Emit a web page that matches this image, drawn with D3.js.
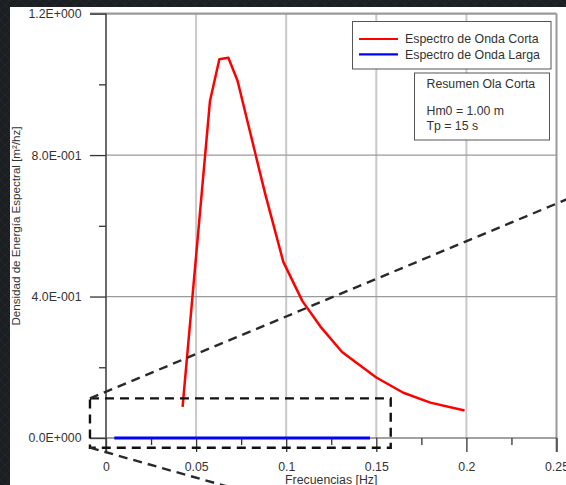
<!DOCTYPE html>
<html>
<head>
<meta charset="utf-8">
<script src="https://cdn.jsdelivr.net/npm/d3@7"></script>
<style>
  html, body { margin: 0; padding: 0; background: #1c1f22; }
  svg { display: block; }
  text { font-family: "Liberation Sans", Arial, sans-serif; fill: #333; }
</style>
</head>
<body>
<svg id="chart" width="566" height="485"></svg>
<script>
// Short-wave spectrum (frequency in Hz, spectral density in m²/Hz)
const shortFreq = [0.0425, 0.0577, 0.0629, 0.0679, 0.0730, 0.0882, 0.0984, 0.1090, 0.1190, 0.1310, 0.1405, 0.1500, 0.1650, 0.1800, 0.1990];
const shortDensity = [0.088, 0.953, 1.071, 1.075, 1.010, 0.693, 0.498, 0.387, 0.315, 0.243, 0.207, 0.171, 0.128, 0.100, 0.078];

// Long-wave spectrum (flat at zero over its range)
const longFreq = [0.0046, 0.1465];
const longDensity = [0, 0];

// Axis ticks
const xTicks = [0, 0.05, 0.1, 0.15, 0.2, 0.25];
const xMinorTicks = [0.025, 0.075, 0.125, 0.175, 0.225];
const yTicks = [0, 0.4, 0.8, 1.2];
const yMinorTicks = [0.2, 0.6, 1.0];

// Legend entries and summary text
const legendLabels = ["Espectro de Onda Corta", "Espectro de Onda Larga"];
const legendColors = ["#ff0000", "#0000ff"];
const summaryLines = ["Resumen Ola Corta", "Hm0 = 1.00 m", "Tp = 15 s"];

// Zoom box (data units) and the connector lines leaving its left corners
const zoomBoxX = [-0.0089, 0.158];
const zoomBoxY = [-0.0274, 0.112];
const connectorUpper = [[-0.0089, 0.112], [0.30, 0.769]];
const connectorLower = [[-0.0089, -0.0274], [0.12, -0.213]];

const svg = d3.select("#chart");
const W = 566, H = 485;

// dark backdrop with a faint diamond texture
const defs = svg.append("defs");
const pat = defs.append("pattern").attr("id", "bgpat")
  .attr("width", 10).attr("height", 10).attr("patternUnits", "userSpaceOnUse");
pat.append("rect").attr("width", 10).attr("height", 10).attr("fill", "#1c1f22");
pat.append("path").attr("d", "M0,0L10,10M10,0L0,10").attr("stroke", "#23272b").attr("stroke-width", 1);
svg.append("rect").attr("width", W).attr("height", H).attr("fill", "url(#bgpat)");

// white page
svg.append("rect").attr("x", 10).attr("y", 7).attr("width", W - 10).attr("height", H - 7).attr("fill", "#ffffff");

const x = d3.scaleLinear().domain([0, 0.25]).range([106, 556.5]);
const y = d3.scaleLinear().domain([0, 1.2]).range([438, 13.6]);

const sciFmt = v => {
  if (v === 0) return "0.0E+000";
  let e = Math.floor(Math.log10(Math.abs(v)) + 1e-9);
  let m = v / Math.pow(10, e);
  if (Math.abs(m) >= 9.95) { m /= 10; e += 1; }
  const sign = e < 0 ? "-" : "+";
  return m.toFixed(1) + "E" + sign + String(Math.abs(e)).padStart(3, "0");
};

// gridlines
const grid = svg.append("g");
grid.selectAll("line.vx").data(xTicks.filter(d => d > 0 && d < 0.25)).join("line")
  .attr("x1", d => x(d)).attr("x2", d => x(d))
  .attr("y1", y(1.2)).attr("y2", y(0))
  .attr("stroke", "#c8c8c8").attr("stroke-width", 2);
grid.selectAll("line.hy").data(yTicks.filter(d => d > 0 && d < 1.2)).join("line")
  .attr("x1", x(0)).attr("x2", x(0.25))
  .attr("y1", d => y(d)).attr("y2", d => y(d))
  .attr("stroke", "#9a9a9a").attr("stroke-width", 1.2);

// top and right frame
svg.append("line").attr("x1", x(0) - 16).attr("x2", x(0.25)).attr("y1", y(1.2)).attr("y2", y(1.2))
  .attr("stroke", "#9a9a9a").attr("stroke-width", 2.2);
svg.append("line").attr("x1", x(0.25)).attr("x2", x(0.25)).attr("y1", y(1.2)).attr("y2", y(0) + 14)
  .attr("stroke", "#9a9a9a").attr("stroke-width", 2);

// axes
const yAxis = d3.axisLeft(y).tickValues(yTicks).tickSize(16).tickPadding(8.5).tickFormat(sciFmt);
const yAxisMinor = d3.axisLeft(y).tickValues(yMinorTicks).tickSize(7).tickFormat("");
const xAxis = d3.axisBottom(x).tickValues(xTicks).tickSize(14).tickPadding(10).tickFormat(d => String(d));
const xAxisMinor = d3.axisBottom(x).tickValues(xMinorTicks).tickSize(7).tickFormat("");

function styleAxis(g) {
  g.select(".domain").remove();
  g.selectAll("line").attr("stroke", "#333").attr("stroke-width", 1.3);
  g.selectAll("text").attr("font-size", 12.3).attr("fill", "#333")
    .attr("font-family", "Liberation Sans, Arial, sans-serif");
}

svg.append("g").attr("transform", `translate(${x(0)},0)`).call(yAxis).call(styleAxis);
svg.append("g").attr("transform", `translate(${x(0)},0)`).call(yAxisMinor).call(styleAxis);
svg.append("g").attr("transform", `translate(0,${y(0)})`).call(xAxis).call(styleAxis);
svg.append("g").attr("transform", `translate(0,${y(0)})`).call(xAxisMinor).call(styleAxis);

// axis lines
svg.append("line").attr("x1", x(0)).attr("x2", x(0)).attr("y1", y(1.2)).attr("y2", y(0) + 14)
  .attr("stroke", "#444").attr("stroke-width", 1.6);
svg.append("line").attr("x1", x(0) - 16).attr("x2", x(0.25)).attr("y1", y(0)).attr("y2", y(0))
  .attr("stroke", "#444").attr("stroke-width", 1.2);

// axis titles
svg.append("text")
  .attr("transform", `translate(20,226) rotate(-90)`)
  .attr("text-anchor", "middle").attr("font-size", 11.6)
  .text("Densidad de Energía Espectral [m²/hz]");
svg.append("text")
  .attr("x", (x(0) + x(0.25)) / 2).attr("y", 484)
  .attr("text-anchor", "middle").attr("font-size", 12.3)
  .text("Frecuencias [Hz]");

// series
const line = d3.line().x(d => x(d[0])).y(d => y(d[1]));
svg.append("path")
  .datum(longFreq.map((f, i) => [f, longDensity[i]]))
  .attr("d", line).attr("fill", "none")
  .attr("stroke", legendColors[1]).attr("stroke-width", 2.8);
svg.append("path")
  .datum(shortFreq.map((f, i) => [f, shortDensity[i]]))
  .attr("d", line).attr("fill", "none")
  .attr("stroke", legendColors[0]).attr("stroke-width", 2.5)
  .attr("stroke-linejoin", "round");

// zoom box and connectors
const dash = "9,6";
svg.append("rect")
  .attr("x", x(zoomBoxX[0])).attr("y", y(zoomBoxY[1]))
  .attr("width", x(zoomBoxX[1]) - x(zoomBoxX[0]))
  .attr("height", y(zoomBoxY[0]) - y(zoomBoxY[1]))
  .attr("fill", "none").attr("stroke", "#111").attr("stroke-width", 2.4)
  .attr("stroke-dasharray", dash);
[connectorUpper, connectorLower].forEach(c => {
  svg.append("path").datum(c).attr("d", line)
    .attr("fill", "none").attr("stroke", "#262a2e").attr("stroke-width", 2.4)
    .attr("stroke-dasharray", dash);
});

// legend
const lg = svg.append("g");
lg.append("rect").attr("x", 352.5).attr("y", 21.5).attr("width", 198.5).attr("height", 47.5)
  .attr("fill", "#fff").attr("stroke", "#555").attr("stroke-width", 1);
legendLabels.forEach((lab, i) => {
  const yy = 39 + i * 15.3;
  lg.append("line").attr("x1", 359).attr("x2", 398).attr("y1", yy).attr("y2", yy)
    .attr("stroke", legendColors[i]).attr("stroke-width", 2.2);
  lg.append("text").attr("x", 405).attr("y", yy + 4.4).attr("font-size", 12.4).text(lab);
});

// summary box
const sb = svg.append("g");
sb.append("rect").attr("x", 414.5).attr("y", 73).attr("width", 135).attr("height", 67)
  .attr("fill", "#fff").attr("stroke", "#555").attr("stroke-width", 1);
const summaryY = [88, 115, 130];
summaryLines.forEach((t, i) => {
  sb.append("text").attr("x", 426.5).attr("y", summaryY[i])
    .attr("font-size", 12.3).text(t);
});
</script>
</body>
</html>
